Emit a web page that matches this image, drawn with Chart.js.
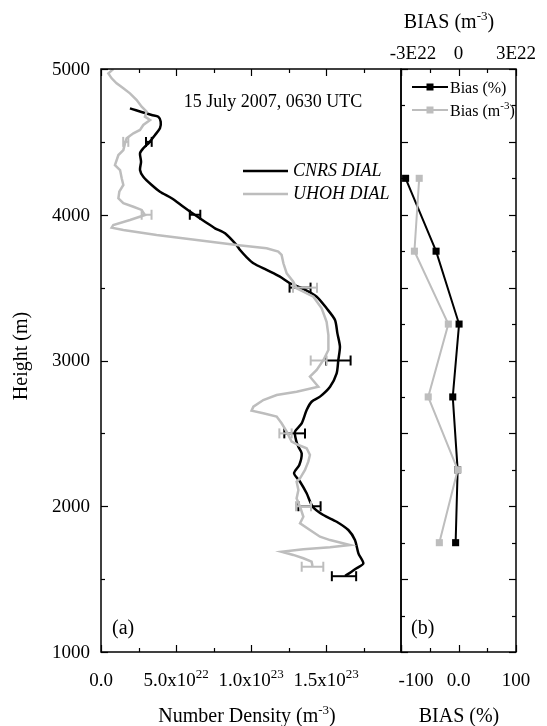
<!DOCTYPE html>
<html>
<head>
<meta charset="utf-8">
<script src="https://cdn.jsdelivr.net/npm/chart.js@4.4.1/dist/chart.umd.min.js"></script>
<style>
  html, body { margin: 0; padding: 0; background: #fff; }
  #wrap { position: relative; width: 547px; height: 726px; }
  #wrap canvas { position: absolute; left: 0; top: 0; }
</style>
</head>
<body>
<div id="wrap">
  <canvas id="profile" width="547" height="726"></canvas>
  <canvas id="bias" width="547" height="726"></canvas>
</div>
<script>
const SERIF = '"Liberation Serif", "Times New Roman", serif';
const BLACK = '#000000';
const GREY = '#bdbdbd';
const TICK_SIZE = 19;
const TITLE_SIZE = 20;

// ---- (a) water vapour number density profiles, density in 10^22 m^-3 ----
const cnrsHeight = [4730, 4684, 4673, 4638, 4593, 4547, 4497, 4456, 4422, 4364, 4307, 4261,
  4204, 4158, 4113, 4055, 3998, 3952, 3907, 3873, 3792, 3758, 3710, 3667, 3621, 3575, 3530,
  3495, 3438, 3358, 3278, 3186, 3095, 3002, 2912, 2820, 2752, 2717, 2660, 2569, 2512, 2455,
  2408, 2363, 2283, 2226, 2168, 2089, 1997, 1940, 1894, 1837, 1768, 1677, 1608, 1574, 1521];
const cnrsDensity = [1.93, 3.38, 3.82, 3.98, 3.93, 3.60, 3.22, 2.82, 2.60, 2.67, 2.60, 2.82,
  3.38, 3.93, 4.71, 5.49, 6.27, 6.93, 7.60, 8.27, 9.04, 9.27, 9.70, 10.16, 11.04, 11.93, 12.60,
  13.40, 14.38, 15.04, 15.60, 15.76, 15.93, 15.82, 15.71, 15.27, 14.60, 14.04, 13.71, 13.38, 12.93, 13.00,
  13.16, 13.38, 13.22, 12.87, 13.27, 13.71, 14.11, 14.82, 15.71, 16.49, 16.93, 17.16, 17.49, 17.04, 16.27];

const uhohHeight = [5000, 4970, 4936, 4902, 4868, 4833, 4787, 4741, 4707, 4673, 4650, 4616,
  4582, 4559, 4525, 4490, 4444, 4410, 4341, 4307, 4250, 4204, 4158, 4113, 4079, 4055, 4033,
  3998, 3964, 3930, 3911, 3895, 3861, 3827, 3792, 3770, 3747, 3724, 3667, 3598, 3541, 3495,
  3438, 3358, 3266, 3175, 3072, 3002, 2935, 2889, 2820, 2786, 2763, 2729, 2683, 2656, 2638,
  2615, 2569, 2512, 2443, 2420, 2398, 2352, 2306, 2249, 2192, 2168, 2111, 2054, 1997, 1928,
  1883, 1837, 1791, 1768, 1734, 1718, 1705, 1688, 1666, 1643, 1620, 1590];
const uhohDensity = [0.82, 0.49, 0.71, 1.04, 1.49, 1.93, 2.38, 2.71, 3.04, 2.93, 3.27, 2.82,
  2.60, 2.16, 1.71, 1.60, 1.49, 1.16, 0.93, 1.27, 1.38, 1.49, 1.22, 1.16, 1.49, 2.16, 2.71,
  2.93, 1.93, 0.82, 0.71, 1.49, 3.71, 6.38, 9.04, 11.04, 11.82, 12.04, 12.16, 12.38, 12.82, 13.04,
  14.16, 14.71, 15.04, 15.16, 15.16, 14.82, 14.38, 13.93, 14.49, 13.04, 11.71, 10.82, 10.16, 10.04, 10.82,
  11.71, 12.04, 12.38, 12.71, 13.16, 13.71, 13.93, 13.82, 13.60, 13.27, 13.04, 13.16, 13.04, 13.27, 13.49,
  13.27, 13.93, 14.60, 15.27, 16.60, 15.27, 13.49, 12.04, 12.82, 13.49, 14.04, 14.10];

// error bars: height, centre and half width (10^22 m^-3)
const cnrsErrHeight = [4500, 4000, 3500, 3000, 2500, 2000, 1520];
const cnrsErrCenter = [3.19, 6.27, 13.27, 15.82, 12.91, 13.90, 16.20];
const cnrsErrHalf   = [0.19, 0.35, 0.70, 0.82, 0.69, 0.74, 0.81];
const uhohErrHeight = [4500, 4000, 3500, 3000, 2500, 2000, 1585];
const uhohErrCenter = [1.65, 3.04, 13.60, 14.51, 12.30, 13.50, 14.10];
const uhohErrHalf   = [0.17, 0.33, 0.80, 0.53, 0.41, 0.50, 0.72];

// ---- (b) bias between the two lidars ----
const biasHeight  = [4250, 3750, 3250, 2750, 2250, 1750];
const biasPercent = [-92, -39, 1, -10, -1.5, -5];
const biasDensity = [-2.05, -2.30, -0.53, -1.58, -0.04, -1.00];   // 10^22 m^-3

// ---- tick values and labels ([text, superscript]) ----
const heightTicks = [1000, 2000, 3000, 4000, 5000];
const densityTicks = [0, 5, 10, 15];
const densityTickLabels = [['0.0', ''], ['5.0x10', '22'], ['1.0x10', '23'], ['1.5x10', '23']];
const percentTicks = [-100, 0, 100];
const percentTickLabels = ['-100', '0.0', '100'];
const biasDensityTicks = [-3, 0, 3];
const biasDensityTickLabels = ['-3E22', '0', '3E22'];

Chart.defaults.color = BLACK;
Chart.defaults.font.family = SERIF;
Chart.defaults.animation = false;

const zip = (xs, ys) => xs.map((x, i) => ({ x: x, y: ys[i] }));

function errorBarSets(heights, centers, halves, color) {
  return heights.map((h, i) => ({
    data: [{ x: centers[i] - halves[i], y: h }, { x: centers[i] + halves[i], y: h }],
    showLine: true,
    borderColor: color,
    borderWidth: 2,
    pointStyle: 'line',
    rotation: 90,
    pointRadius: 5,
    pointBorderWidth: 2,
    pointBorderColor: color
  }));
}

// text with superscript pieces
function richText(ctx, parts, x, y, size, align, italic) {
  const font = s => (italic ? 'italic ' : '') + s + 'px ' + SERIF;
  const supSize = Math.round(size * 0.66);
  let total = 0;
  const widths = parts.map(p => {
    ctx.font = font(p.sup ? supSize : size);
    const w = ctx.measureText(p.t).width;
    total += w;
    return w;
  });
  let cx = align === 'center' ? x - total / 2 : (align === 'right' ? x - total : x);
  ctx.textAlign = 'left';
  ctx.textBaseline = 'alphabetic';
  parts.forEach((p, i) => {
    ctx.font = font(p.sup ? supSize : size);
    ctx.fillText(p.t, cx, p.sup ? y - size * 0.42 : y);
    cx += widths[i];
  });
}

// inward tick marks along one side of the plot frame
function drawTicks(ctx, scale, from, to, step, majorEvery, side, area) {
  for (let v = from; v <= to + 1e-9; v += step) {
    const major = Math.abs(v / majorEvery - Math.round(v / majorEvery)) < 1e-6;
    const len = major ? 7 : 4;
    const p = Math.round(scale.getPixelForValue(v)) + 0.5;
    ctx.beginPath();
    if (side === 'bottom') { ctx.moveTo(p, area.bottom); ctx.lineTo(p, area.bottom - len); }
    if (side === 'top')    { ctx.moveTo(p, area.top);    ctx.lineTo(p, area.top + len); }
    if (side === 'left')   { ctx.moveTo(area.left, p);   ctx.lineTo(area.left + len, p); }
    if (side === 'right')  { ctx.moveTo(area.right, p);  ctx.lineTo(area.right - len, p); }
    ctx.stroke();
  }
}

const BOTTOM_LABEL_Y = 686;

const profileDecor = {
  id: 'profileDecor',
  afterDraw(chart) {
    const ctx = chart.ctx, a = chart.chartArea;
    const sx = chart.scales.x, sy = chart.scales.y;
    ctx.save();
    ctx.strokeStyle = BLACK;
    ctx.lineWidth = 1.5;
    ctx.strokeRect(a.left, a.top, a.right - a.left, a.bottom - a.top);
    ctx.lineWidth = 1.2;
    drawTicks(ctx, sx, 0, 20, 2.5, 5, 'bottom', a);
    drawTicks(ctx, sx, 0, 20, 2.5, 5, 'top', a);
    drawTicks(ctx, sy, 1000, 5000, 500, 1000, 'left', a);

    ctx.fillStyle = BLACK;
    // density tick labels with exponents
    densityTicks.forEach((v, i) => {
      const lab = densityTickLabels[i];
      const parts = [{ t: lab[0] }];
      if (lab[1]) parts.push({ t: lab[1], sup: true });
      richText(ctx, parts, sx.getPixelForValue(v), BOTTOM_LABEL_Y, TICK_SIZE, 'center');
    });
    // height tick labels
    ctx.font = TICK_SIZE + 'px ' + SERIF;
    ctx.textAlign = 'right';
    ctx.textBaseline = 'middle';
    heightTicks.forEach(v => ctx.fillText(String(v), a.left - 11, sy.getPixelForValue(v) + 1));

    ctx.font = '18px ' + SERIF;
    ctx.textAlign = 'center';
    ctx.textBaseline = 'alphabetic';
    ctx.fillText('15 July 2007, 0630 UTC', 273, 107);

    // legend
    ctx.lineWidth = 2.5;
    ctx.strokeStyle = BLACK;
    ctx.beginPath(); ctx.moveTo(243, 171); ctx.lineTo(288, 171); ctx.stroke();
    ctx.strokeStyle = GREY;
    ctx.beginPath(); ctx.moveTo(243, 194); ctx.lineTo(288, 194); ctx.stroke();
    ctx.font = 'italic 18px ' + SERIF;
    ctx.textAlign = 'left';
    ctx.textBaseline = 'middle';
    ctx.fillText('CNRS DIAL', 293, 171);
    ctx.fillText('UHOH DIAL', 293, 194);

    ctx.textBaseline = 'alphabetic';
    ctx.font = TITLE_SIZE + 'px ' + SERIF;
    ctx.fillText('(a)', 112, 634);

    richText(ctx, [{ t: 'Number Density (m' }, { t: '-3', sup: true }, { t: ')' }], 247, 722, TITLE_SIZE, 'center');

    ctx.translate(27, 356);
    ctx.rotate(-Math.PI / 2);
    ctx.font = TITLE_SIZE + 'px ' + SERIF;
    ctx.textAlign = 'center';
    ctx.fillText('Height (m)', 0, 0);
    ctx.restore();
  }
};

const biasDecor = {
  id: 'biasDecor',
  afterDraw(chart) {
    const ctx = chart.ctx, a = chart.chartArea;
    const sx = chart.scales.x, sx2 = chart.scales.x2, sy = chart.scales.y;
    ctx.save();
    ctx.strokeStyle = BLACK;
    ctx.lineWidth = 1.5;
    ctx.strokeRect(a.left, a.top, a.right - a.left, a.bottom - a.top);
    ctx.lineWidth = 1.2;
    drawTicks(ctx, sx, -100, 100, 50, 100, 'bottom', a);
    drawTicks(ctx, sx2, -3, 3, 1.5, 3, 'top', a);
    drawTicks(ctx, sy, 1000, 5000, 250, 500, 'left', a);
    drawTicks(ctx, sy, 1000, 5000, 250, 500, 'right', a);

    ctx.fillStyle = BLACK;
    ctx.font = TICK_SIZE + 'px ' + SERIF;
    ctx.textAlign = 'center';
    ctx.textBaseline = 'alphabetic';
    // the leftmost labels sit slightly inside so they clear panel (a)'s labels
    percentTicks.forEach((v, i) => {
      const shift = i === 0 ? 15 : 0;
      ctx.fillText(percentTickLabels[i], sx.getPixelForValue(v) + shift, BOTTOM_LABEL_Y);
    });
    biasDensityTicks.forEach((v, i) => {
      const shift = i === 0 ? 12 : 0;
      ctx.fillText(biasDensityTickLabels[i], sx2.getPixelForValue(v) + shift, 59);
    });

    richText(ctx, [{ t: 'BIAS (m' }, { t: '-3', sup: true }, { t: ')' }], 449, 28, TITLE_SIZE, 'center');
    richText(ctx, [{ t: 'BIAS (%)' }], 459, 722, TITLE_SIZE, 'center');

    // legend
    const rows = [
      { y: 87, color: BLACK, parts: [{ t: 'Bias (%)' }] },
      { y: 110, color: GREY, parts: [{ t: 'Bias (m' }, { t: '-3', sup: true }, { t: ')' }] }
    ];
    rows.forEach(r => {
      ctx.strokeStyle = r.color;
      ctx.lineWidth = 2;
      ctx.beginPath(); ctx.moveTo(412, r.y); ctx.lineTo(448, r.y); ctx.stroke();
      ctx.fillStyle = r.color;
      ctx.fillRect(426.5, r.y - 3.5, 7, 7);
      ctx.fillStyle = BLACK;
      richText(ctx, r.parts, 450, r.y + 5.5, 16, 'left');
    });

    ctx.font = TITLE_SIZE + 'px ' + SERIF;
    ctx.textAlign = 'left';
    ctx.fillText('(b)', 411, 634);
    ctx.restore();
  }
};

const hiddenAxis = {
  grid: { display: false, drawTicks: false },
  border: { display: false },
  ticks: { display: false }
};

new Chart(document.getElementById('profile'), {
  type: 'scatter',
  data: {
    datasets: [
      ...errorBarSets(uhohErrHeight, uhohErrCenter, uhohErrHalf, GREY),
      { data: zip(uhohDensity, uhohHeight), showLine: true, borderColor: GREY, borderWidth: 2.5,
        pointRadius: 0, tension: 0 },
      { data: zip(cnrsDensity, cnrsHeight), showLine: true, borderColor: BLACK, borderWidth: 2.5,
        pointRadius: 0, tension: 0.25 },
      ...errorBarSets(cnrsErrHeight, cnrsErrCenter, cnrsErrHalf, BLACK)
    ]
  },
  options: {
    responsive: false,
    devicePixelRatio: 1,
    layout: { padding: { left: 0, right: 146, top: 69, bottom: 0 } },
    plugins: { legend: { display: false }, tooltip: { enabled: false } },
    scales: {
      x: Object.assign({ type: 'linear', position: 'bottom', min: 0, max: 20,
        afterFit(s) { s.height = 74; } }, hiddenAxis),
      y: Object.assign({ type: 'linear', position: 'left', min: 1000, max: 5000,
        afterFit(s) { s.width = 101; } }, hiddenAxis)
    }
  },
  plugins: [profileDecor]
});

new Chart(document.getElementById('bias'), {
  type: 'scatter',
  data: {
    datasets: [
      { data: zip(biasDensity, biasHeight), xAxisID: 'x2', showLine: true,
        borderColor: GREY, borderWidth: 2, pointStyle: 'rect', pointRadius: 5,
        pointBackgroundColor: GREY, pointBorderColor: GREY, pointBorderWidth: 0 },
      { data: zip(biasPercent, biasHeight), xAxisID: 'x', showLine: true,
        borderColor: BLACK, borderWidth: 2, pointStyle: 'rect', pointRadius: 5,
        pointBackgroundColor: BLACK, pointBorderColor: BLACK, pointBorderWidth: 0 }
    ]
  },
  options: {
    responsive: false,
    devicePixelRatio: 1,
    layout: { padding: { left: 401, right: 31, top: 0, bottom: 0 } },
    plugins: { legend: { display: false }, tooltip: { enabled: false } },
    scales: {
      x: Object.assign({ type: 'linear', position: 'bottom', min: -100, max: 100,
        afterFit(s) { s.height = 74; } }, hiddenAxis),
      x2: Object.assign({ type: 'linear', position: 'top', min: -3, max: 3,
        afterFit(s) { s.height = 69; } }, hiddenAxis),
      y: { type: 'linear', display: false, min: 1000, max: 5000 }
    }
  },
  plugins: [biasDecor]
});
</script>
</body>
</html>
